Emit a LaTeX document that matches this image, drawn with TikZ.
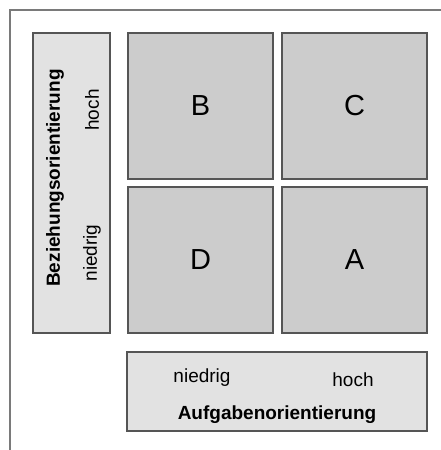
\documentclass[tikz,border=0pt]{standalone}
\usepackage{fontspec}
\setmainfont{Liberation Sans}
\definecolor{cellfill}{HTML}{CCCCCC}
\definecolor{axisfill}{HTML}{E2E2E2}
\definecolor{edge}{HTML}{555555}
\definecolor{frame}{HTML}{7A7A7A}
\begin{document}
\begin{tikzpicture}[x=1pt,y=-1pt,
  cell/.style={draw=edge,line width=1.3pt,fill=cellfill,minimum width=145pt,minimum height=146pt,inner sep=0pt,font=\fontsize{29}{30}\selectfont},
  axisbox/.style={draw=edge,line width=1.3pt,fill=axisfill,inner sep=0pt},
  lbl/.style={font=\fontsize{19}{20}\selectfont,inner sep=0pt},
  ttl/.style={font=\fontsize{19}{20}\selectfont\bfseries,inner sep=0pt}]
\useasboundingbox (0,0) rectangle (441,450);
\draw[frame,line width=2pt] (9.5,450) -- (9.5,10) -- (441,10);
% matrix cells
\node[cell] (B) at (200.5,106) {B};
\node[cell] (C) at (354.5,106) {C};
\node[cell] (D) at (200.5,260) {D};
\node[cell] (A) at (354.5,260) {A};
% left axis
\node[axisbox,minimum width=77pt,minimum height=300pt] (left) at (71.5,183) {};
\node[ttl,rotate=90] (bez) at (55,178) {Beziehungsorientierung};
\node[lbl,rotate=90] (lhoch) at (92,110) {hoch};
\node[lbl,rotate=90] (lnied) at (92,253) {niedrig};
% bottom axis
\node[axisbox,minimum width=300pt,minimum height=79pt] (bottom) at (277,391.5) {};
\node[lbl] (bnied) at (202,378) {niedrig};
\node[lbl] (bhoch) at (353,380) {hoch};
\node[ttl] (auf) at (277,415) {Aufgabenorientierung};
\end{tikzpicture}
\end{document}
